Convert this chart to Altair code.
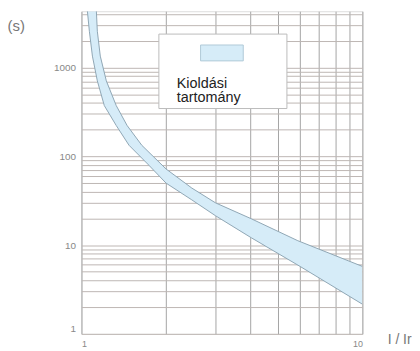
import altair as alt
import pandas as pd

# lower (left) boundary of the tripping band: I/Ir, time (s)
lower_x = [1.05, 1.067, 1.094, 1.139, 1.206, 1.33, 1.477, 1.738, 2.0, 2.47, 3.0, 4.02, 6.0, 10.0]
lower_y = [4300, 2558, 1343, 707, 372, 222, 133, 79.3, 49.9, 32.3, 21.4, 12.1, 5.75, 2.16]
# upper (right) boundary
upper_x = [1.13, 1.139, 1.167, 1.226, 1.33, 1.454, 1.64, 2.0, 2.47, 3.0, 4.02, 5.89, 10.0]
upper_y = [4300, 2558, 1343, 707, 372, 222, 133, 72, 43.9, 29.9, 19.8, 11.2, 5.75]

y_grid = [1, 2, 3, 4, 5, 6, 7, 8, 9, 10, 20, 30, 40, 50, 60, 70, 80, 90,
          100, 200, 300, 400, 500, 600, 700, 800, 900, 1000, 2000, 3000, 4000]
x_grid = [1, 2, 3, 4, 5, 6, 7, 8, 9, 10]
legend_lines = ["Kioldási", "tartomány"]

FONT = "Liberation Sans"

poly = pd.DataFrame({
    "x": lower_x + upper_x[::-1],
    "y": lower_y + upper_y[::-1],
    "o": list(range(len(lower_x) + len(upper_x))),
})
lo = pd.DataFrame({"x": lower_x, "y": lower_y, "o": list(range(len(lower_x)))})
up = pd.DataFrame({"x": upper_x, "y": upper_y, "o": list(range(len(upper_x)))})

xscale = alt.Scale(type="log", domain=[1, 10], nice=False)
yscale = alt.Scale(type="log", domain=[1, 4300], nice=False)

xaxis = alt.Axis(
    values=x_grid, title="I / Ir", titleAngle=0, titleX=308, titleY=10,
    titleAlign="left", titleBaseline="alphabetic", titleFont=FONT,
    titleFontSize=14, titleFontWeight="normal", titleColor="#777",
    labelExpr="(datum.value == 1 || datum.value == 10) ? format(datum.value, 'd') : ''",
    labelFlush=True, labelFont=FONT, labelFontSize=9, labelColor="#888",
    labelPadding=6, ticks=False, domain=False,
    grid=True, gridColor="#a4a4a4", gridWidth=1,
)
yaxis = alt.Axis(
    values=y_grid, title="(s)", titleAngle=0, titleX=-75, titleY=19,
    titleAlign="left", titleBaseline="alphabetic", titleFont=FONT,
    titleFontSize=15, titleFontWeight="normal", titleColor="#777",
    labelExpr="(datum.value == 1 || datum.value == 10 || datum.value == 100 || datum.value == 1000) ? format(datum.value, 'd') : ''",
    labelFlush=True, labelFont=FONT, labelFontSize=10, labelColor="#888",
    labelPadding=6, ticks=False, domain=False,
    grid=True, gridColor="#bdb6b3", gridWidth=1,
)

band = alt.Chart(poly).mark_line(
    filled=True, fill="#d6ecf8", strokeWidth=0, clip=True
).encode(
    x=alt.X("x:Q", scale=xscale, axis=xaxis),
    y=alt.Y("y:Q", scale=yscale, axis=yaxis),
    order="o:Q",
)

edge_lo = alt.Chart(lo).mark_line(color="#8fa6b4", strokeWidth=1, clip=True).encode(
    x=alt.X("x:Q", scale=xscale), y=alt.Y("y:Q", scale=yscale), order="o:Q")
edge_up = alt.Chart(up).mark_line(color="#8fa6b4", strokeWidth=1, clip=True).encode(
    x=alt.X("x:Q", scale=xscale), y=alt.Y("y:Q", scale=yscale), order="o:Q")

one = pd.DataFrame({"a": [0]})

box = alt.Chart(one).mark_rect(
    fill="white", stroke="#bbbbbb", strokeWidth=1
).encode(x=alt.value(78), x2=alt.value(207), y=alt.value(23), y2=alt.value(98))

swatch = alt.Chart(one).mark_rect(
    fill="#d6ecf8", stroke="#b0cad8", strokeWidth=1
).encode(x=alt.value(120), x2=alt.value(163), y=alt.value(34), y2=alt.value(50))

text1 = alt.Chart(one).mark_text(
    align="left", baseline="alphabetic", font=FONT, fontSize=14.5, color="#222222",
    text=legend_lines[0]
).encode(x=alt.value(96), y=alt.value(77))
text2 = alt.Chart(one).mark_text(
    align="left", baseline="alphabetic", font=FONT, fontSize=14.5, color="#222222",
    text=legend_lines[1]
).encode(x=alt.value(96), y=alt.value(91))

chart = alt.layer(band, edge_lo, edge_up, box, swatch, text1, text2).properties(
    width=283, height=325,
    autosize=alt.AutoSizeParams(type="none"),
    padding={"left": 74, "top": 2, "right": 50, "bottom": 16},
).configure_view(stroke="#bbbbbb", strokeWidth=1).configure(background="white")

chart.save("out.html", embed_options={"renderer": "svg", "actions": False})
